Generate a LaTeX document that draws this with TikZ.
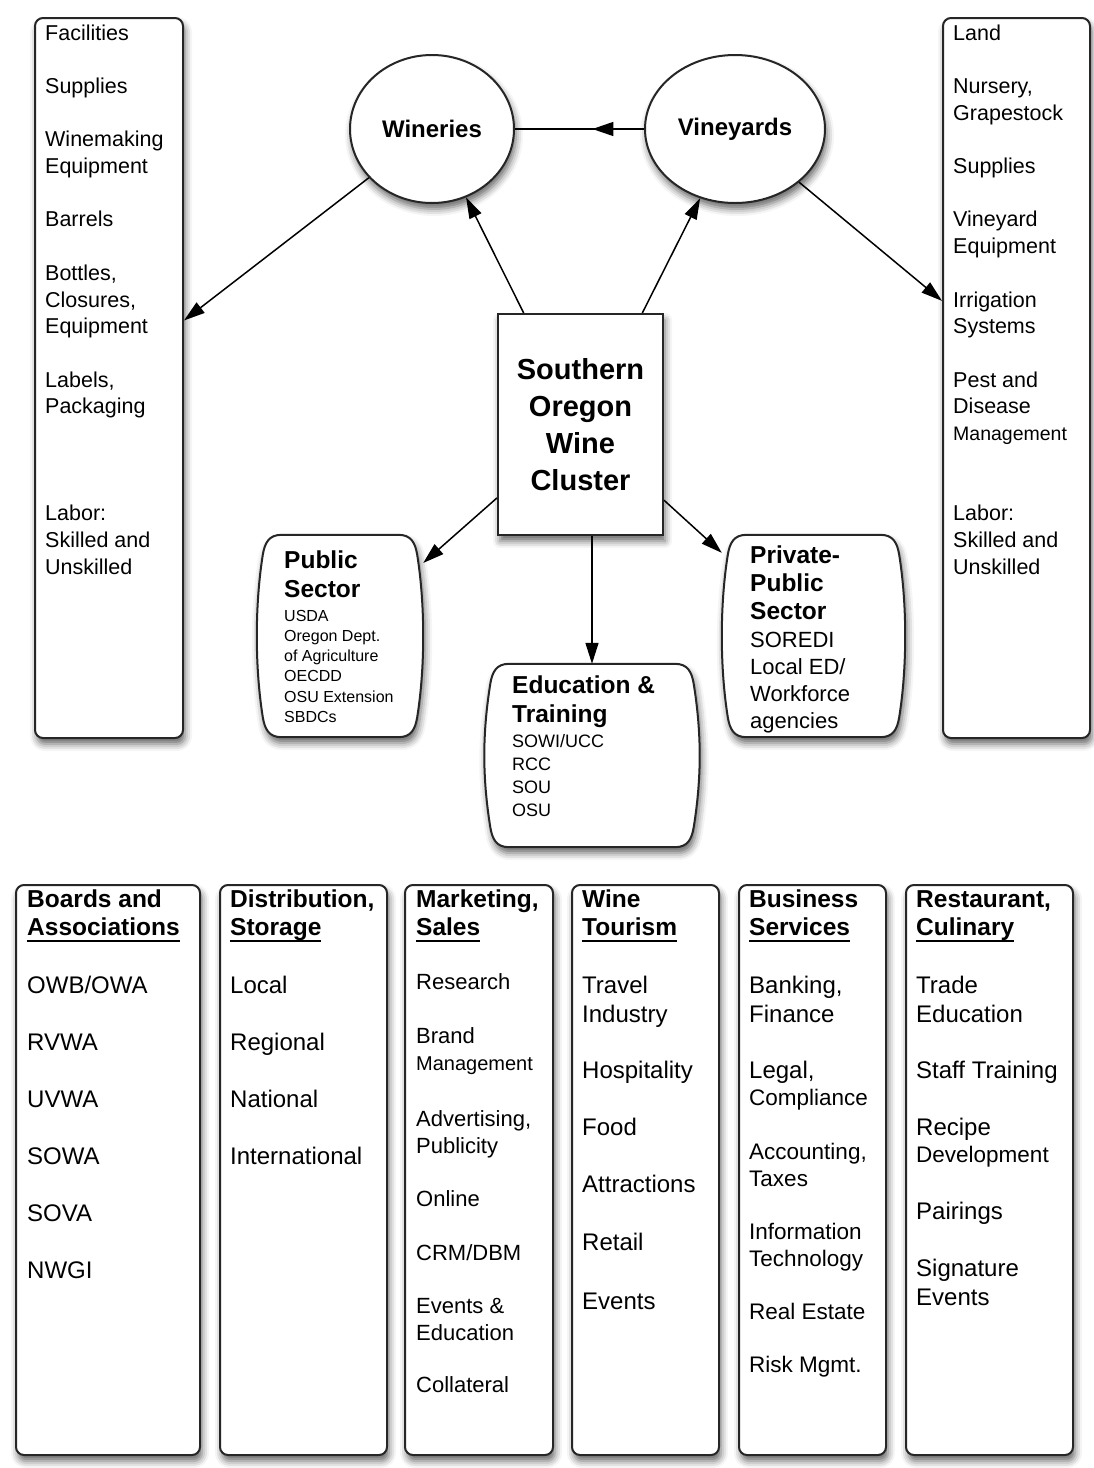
\documentclass[tikz,border=0pt]{standalone}
\usepackage{fontspec}
\setmainfont{Liberation Sans}
\usetikzlibrary{arrows.meta,shapes.geometric,shadows.blur,decorations.markings,calc}

\newsavebox\hdbox
\newcommand{\hdline}[1]{\sbox\hdbox{#1}\rlap{\rule[-7pt]{\wd\hdbox}{2pt}}\usebox\hdbox}

\begin{document}
\begin{tikzpicture}[x=1pt, y=-1pt,
  soft/.style={blur shadow={shadow xshift=2pt, shadow yshift=-6pt, shadow blur radius=7pt, shadow opacity=60}},
  listbox/.style={draw=black!85, line width=2pt, rounded corners=8pt, fill=white, soft, inner sep=0pt},
  bubble/.style={ellipse, draw=black!85, line width=2pt, fill=white, soft, inner sep=0pt, font=\bfseries\fontsize{24}{28}\selectfont},
  hubbox/.style={draw=black!85, line width=2pt, fill=white, soft, align=center, font=\bfseries\fontsize{29}{37}\selectfont},
  spot/.style={inner sep=0pt},
  barrel/.style={draw=black!85, line width=2pt, fill=white, soft},
  link/.style={-{Triangle[length=21pt,width=13pt,fill=black]}, line width=1.5pt, draw=black},
  midarrow/.style={postaction={decorate}, decoration={markings, mark=at position 0.4 with {\arrow{Triangle[length=21pt,width=14pt,fill=black]}}}},
  item/.style={anchor=base west, inner sep=0pt, font=\fontsize{21.5}{26}\selectfont},
  big/.style={item, font=\fontsize{24}{28}\selectfont},
  head/.style={item, font=\bfseries\fontsize{24.5}{28}\selectfont},
  tag/.style={item, font=\fontsize{16}{20}\selectfont}
]
\useasboundingbox (0,0) rectangle (1094,1468);

% supply columns
\node[listbox, minimum width=148, minimum height=720] (winesup) at (109,378) {};
\node[listbox, minimum width=147, minimum height=720] (vinesup) at (1016.5,378) {};
\foreach \k/\t in {0/Facilities, 2/Supplies, 4/Winemaking, 5/Equipment, 7/Barrels, 9/{Bottles,}, 10/{Closures,}, 11/Equipment, 13/{Labels,}, 14/Packaging, 18/{Labor:}, 19/Skilled and, 20/Unskilled}
  \node[item] (winesup-\k) at (45,{40+26.7*\k}) {\t};
\foreach \k/\t in {0/Land, 2/{Nursery,}, 3/Grapestock, 5/Supplies, 7/Vineyard, 8/Equipment, 10/Irrigation, 11/Systems, 13/Pest and, 14/Disease, 18/{Labor:}, 19/Skilled and, 20/Unskilled}
  \node[item] (vinesup-\k) at (953,{40+26.7*\k}) {\t};
\node[item, font=\fontsize{19.5}{24}\selectfont] (vinesup-15) at (953,440.5) {Management};

% core
\node[bubble, minimum width=164, minimum height=148] (win) at (432,129) {Wineries};
\node[bubble, minimum width=180, minimum height=148] (vin) at (735,129) {Vineyards};
\node[hubbox, minimum width=165, minimum height=221] (hub) at (580.5,424.5) {Southern\\Oregon\\Wine\\Cluster};

% support groups
\node[spot, minimum width=166, minimum height=202] (pub) at (340,636) {};
\node[spot, minimum width=215, minimum height=183] (edu) at (592,755.5) {};
\node[spot, minimum width=183, minimum height=202] (ppp) at (813.5,636) {};
\foreach \b in {pub,edu,ppp}
  \draw[barrel] ($(\b.north west)+(25,0)$) -- ($(\b.north east)+(-25,0)$)
    .. controls +(13,0) and +(-2,-12) .. ($(\b.north east)+(-6,20)$)
    .. controls +(8,50) and +(8,-50) .. ($(\b.south east)+(-6,-20)$)
    .. controls +(-2,12) and +(13,0) .. ($(\b.south east)+(-25,0)$)
    -- ($(\b.south west)+(25,0)$)
    .. controls +(-13,0) and +(2,12) .. ($(\b.south west)+(6,-20)$)
    .. controls +(-8,-50) and +(-8,50) .. ($(\b.north west)+(6,20)$)
    .. controls +(2,-12) and +(-13,0) .. cycle;

\node[head] (pub-h1) at (284,568) {Public};
\node[head] (pub-h2) at (284,597) {Sector};
\foreach \y/\t [count=\i] in {621/USDA, 641.5/Oregon Dept., 661/of Agriculture, 681.5/OECDD, 702/OSU Extension, 722/SBDCs}
  \node[tag] (pub-\i) at (284,\y) {\t};
\node[head] (edu-h1) at (512,693) {Education \&};
\node[head] (edu-h2) at (512,722) {Training};
\foreach \y/\t [count=\i] in {747/{SOWI/UCC}, 770/RCC, 793/SOU, 816/OSU}
  \node[tag, font=\fontsize{18}{22}\selectfont] (edu-\i) at (512,\y) {\t};
\node[head] (ppp-h1) at (750,563) {Private-};
\node[head] (ppp-h2) at (750,591) {Public};
\node[head] (ppp-h3) at (750,619) {Sector};
\foreach \y/\t [count=\i] in {647/SOREDI, 674/{Local ED/}, 701/Workforce, 728/agencies}
  \node[item, font=\fontsize{22}{26}\selectfont] (ppp-\i) at (750,\y) {\t};

% arrows
\draw[link, -, midarrow] (vin) -- (win);
\draw[link] (hub.117.5) -- (win);
\draw[link] (hub.61) -- (vin);
\draw[link] (win) -- (winesup);
\draw[link] (vin) -- (vinesup.134);
\draw[link] (hub) -- (pub);
\draw[link] (hub.south -| edu.north) -- (edu.north);
\draw[link] (hub) -- (ppp);

% related industries
\node[listbox, minimum width=184, minimum height=570] (boards) at (108,1170) {};
\node[listbox, minimum width=167, minimum height=570] (distrib) at (303.5,1170) {};
\node[listbox, minimum width=148, minimum height=570] (market) at (479,1170) {};
\node[listbox, minimum width=147, minimum height=570] (tourism) at (645.5,1170) {};
\node[listbox, minimum width=147, minimum height=570] (business) at (812.5,1170) {};
\node[listbox, minimum width=167, minimum height=570] (culinary) at (989.5,1170) {};

\node[head] (boards-h1) at (27,907) {Boards and};
\node[head] (boards-h2) at (27,935) {\hdline{Associations}};
\node[head] (distrib-h1) at (230,907) {Distribution,};
\node[head] (distrib-h2) at (230,935) {\hdline{Storage}};
\node[head] (market-h1) at (416,907) {Marketing,};
\node[head] (market-h2) at (416,935) {\hdline{Sales}};
\node[head] (tourism-h1) at (582,907) {Wine};
\node[head] (tourism-h2) at (582,935) {\hdline{Tourism}};
\node[head] (business-h1) at (749,907) {Business};
\node[head] (business-h2) at (749,935) {\hdline{Services}};
\node[head] (culinary-h1) at (916,907) {Restaurant,};
\node[head] (culinary-h2) at (916,935) {\hdline{Culinary}};

\foreach \y/\t [count=\i] in {993/{OWB/OWA}, 1050/RVWA, 1107/UVWA, 1164/SOWA, 1221/SOVA, 1278/NWGI}
  \node[big] (boards-\i) at (27,\y) {\t};
\foreach \y/\t [count=\i] in {993/Local, 1050/Regional, 1107/National, 1164/International}
  \node[big] (distrib-\i) at (230,\y) {\t};
\foreach \y/\t [count=\i] in {989/Research, 1043/Brand, 1126/{Advertising,}, 1153/Publicity, 1206/Online, 1260/{CRM/DBM}, 1313/Events \&, 1340/Education, 1392/Collateral}
  \node[item, font=\fontsize{22}{26}\selectfont] (market-\i) at (416,\y) {\t};
\node[item, font=\fontsize{20}{24}\selectfont] (market-mgmt) at (416,1070) {Management};
\foreach \y/\t [count=\i] in {993/Travel, 1022/Industry, 1078/Hospitality, 1135/Food, 1192/Attractions, 1250/Retail, 1309/Events}
  \node[big] (tourism-\i) at (582,\y) {\t};
\foreach \y/\t [count=\i] in {993/{Banking,}, 1022/Finance, 1078/{Legal,}}
  \node[big] (business-\i) at (749,\y) {\t};
\foreach \y/\t [count=\i] in {1105/Compliance, 1159/{Accounting,}, 1186/Taxes, 1239/Information, 1266/Technology, 1319/Real Estate, 1372/Risk Mgmt.}
  \node[item, font=\fontsize{22.5}{26}\selectfont] (business-x\i) at (749,\y) {\t};
\foreach \y/\t [count=\i] in {993/Trade, 1022/Education, 1078/Staff Training, 1135/Recipe, 1219/Pairings, 1276/Signature, 1305/Events}
  \node[big] (culinary-\i) at (916,\y) {\t};
\node[item, font=\fontsize{22.5}{26}\selectfont] (culinary-dev) at (916,1162) {Development};
\end{tikzpicture}
\end{document}
